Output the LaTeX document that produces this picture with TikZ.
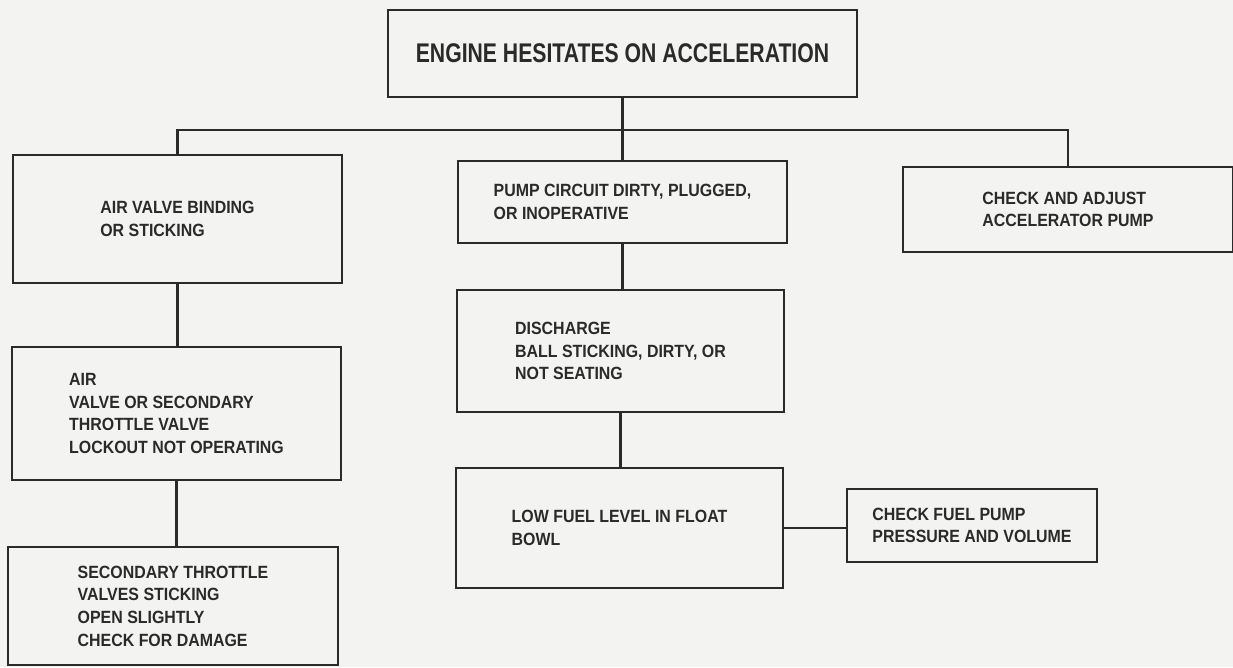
\documentclass[tikz,border=0pt]{standalone}
\usepackage{fontspec}
\setmainfont{Liberation Sans}
\newfontfamily\chartfont[FakeStretch=0.9]{Liberation Sans}
\newfontfamily\headfont[FakeStretch=0.785]{Liberation Sans}
\definecolor{inkgray}{HTML}{2A2A2A}
\definecolor{paper}{HTML}{F3F3F1}

\begin{document}
\begin{tikzpicture}[x=1pt,y=-1pt]
\tikzset{
  chartbox/.style={rectangle,draw=inkgray,line width=1.7pt,align=left,inner sep=0pt,text=inkgray,
    font=\chartfont\bfseries\fontsize{17.7}{22.6}\selectfont},
  headbox/.style={rectangle,draw=inkgray,line width=2.8pt,align=center,inner sep=0pt,text=inkgray,
    font=\headfont\bfseries\fontsize{27}{32}\selectfont},
  chartlink/.style={draw=inkgray,line width=2.2pt,line cap=rect,line join=miter}
}
\useasboundingbox (0,0) rectangle (1233,667);
\clip (0,0) rectangle (1233,667);
\fill[paper] (0,0) rectangle (1233,667);
% top
\node[headbox,minimum width=469pt,minimum height=87pt] (n_head) at (622.5,53.5) {ENGINE HESITATES ON ACCELERATION};
% left column
\node[chartbox,minimum width=329pt,minimum height=128pt] (n_air) at (177.5,219) {AIR VALVE BINDING\\OR STICKING};
\node[chartbox,minimum width=329pt,minimum height=133pt] (n_lock) at (176.5,413.5) {AIR\\VALVE OR SECONDARY\\THROTTLE VALVE\\LOCKOUT NOT OPERATING};
\node[chartbox,minimum width=330pt,minimum height=118pt] (n_sec) at (173,606) {SECONDARY THROTTLE\\VALVES STICKING\\OPEN SLIGHTLY\\CHECK FOR DAMAGE};
% middle column
\node[chartbox,minimum width=329pt,minimum height=82pt] (n_pump) at (622.5,202) {PUMP CIRCUIT DIRTY, PLUGGED,\\OR INOPERATIVE};
\node[chartbox,minimum width=327pt,minimum height=122pt] (n_ball) at (620.5,351) {DISCHARGE\\BALL STICKING, DIRTY, OR\\NOT SEATING};
\node[chartbox,minimum width=327pt,minimum height=120pt] (n_fuel) at (619.5,528) {LOW FUEL LEVEL IN FLOAT\\BOWL};
% right
\node[chartbox,minimum width=250pt,minimum height=73pt] (n_press) at (972,525.5) {CHECK FUEL PUMP\\PRESSURE AND VOLUME};
\node[chartbox,minimum width=330pt,minimum height=85pt] (n_adj) at (1068,209.5) {CHECK AND ADJUST\\ACCELERATOR PUMP};
\coordinate (c_bus) at (622.5,130);
\draw[chartlink] (n_head) -- (n_pump);
\draw[chartlink] (n_air.north) |- (c_bus) -| (n_adj.north);
\draw[chartlink] (n_air.south) -- (n_air.south |- n_lock.north);
\draw[chartlink] (n_lock.south) -- (n_lock.south |- n_sec.north);
\draw[chartlink] (n_pump.south) -- (n_pump.south |- n_ball.north);
\draw[chartlink] (n_ball.south) -- (n_ball.south |- n_fuel.north);
\draw[chartlink] (n_fuel.east) -- (n_fuel.east -| n_press.west);
\end{tikzpicture}
\end{document}
